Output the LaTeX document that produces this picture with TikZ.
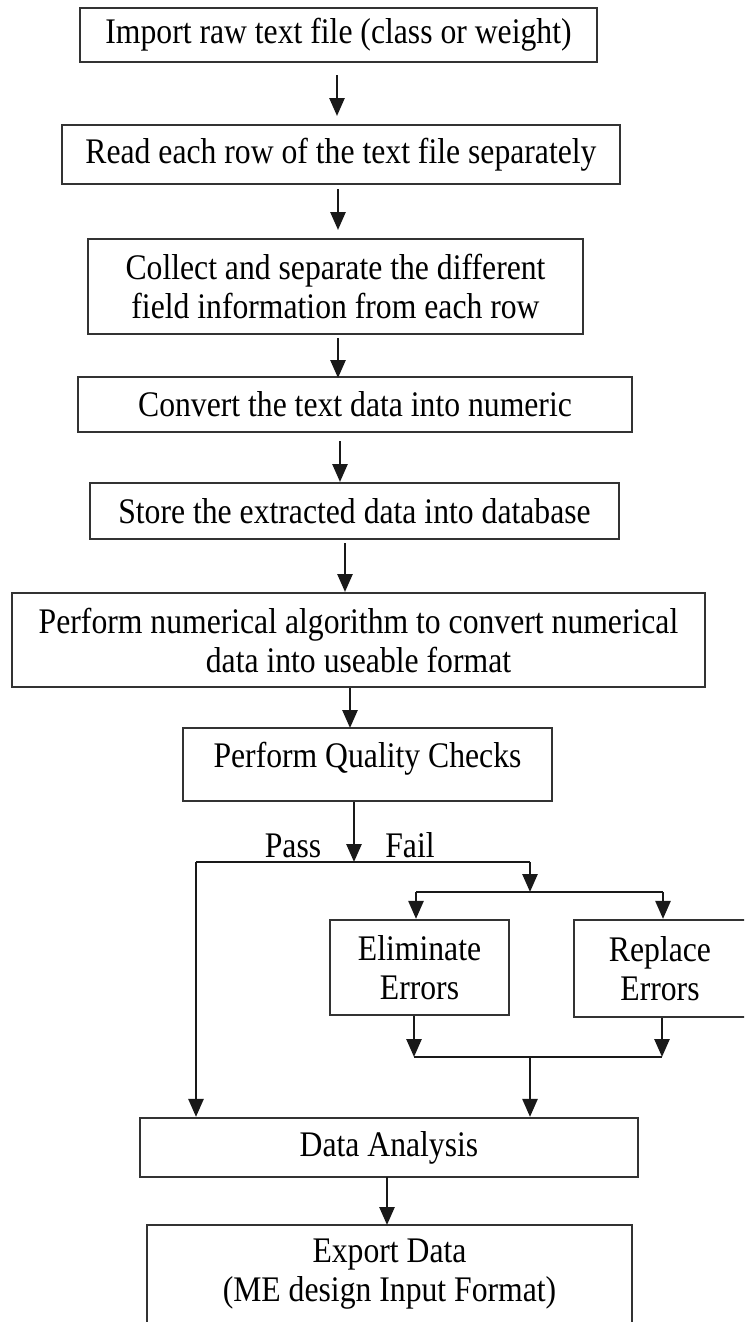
\documentclass[tikz,border=0pt]{standalone}
\usepackage{fontspec}
\setmainfont{Liberation Serif}[FakeStretch=0.88]
\usetikzlibrary{arrows.meta}
\begin{document}
\begin{tikzpicture}[x=1pt,y=-1pt,
  box/.style={draw=black!80, line width=2.2pt, align=center, inner sep=0pt,
    font=\fontsize{36}{39}\selectfont},
  conn/.style={draw=black!90, line width=2.6pt},
  arr/.style={conn, -{Triangle[length=18pt,width=15pt]}},
  lbl/.style={font=\fontsize{36}{39}\selectfont, inner sep=0pt, anchor=base}]
\useasboundingbox (0,0) rectangle (744,1322);
\clip (0,0) rectangle (744,1322);
\fill[white] (0,0) rectangle (744,1322);

\node[box, minimum width=517, minimum height=54] (b1) at (338.5,35) {Import raw text file (class or weight)};
\node[box, minimum width=558, minimum height=59] (b2) at (341,154.5) {Read each row of the text file separately};
\node[box, minimum width=495, minimum height=95] (b3) at (335.5,286.5) {Collect and separate the different\\field information from each row};
\node[box, minimum width=554, minimum height=55] (b4) at (355,404.5) {Convert the text data into numeric};
\node[box, minimum width=529, minimum height=56] (b5) at (354.5,511) {Store the extracted data into database};
\node[box, minimum width=693, minimum height=94] (b6) at (358.5,640) {Perform numerical algorithm to convert numerical\\data into useable format};
\node[box, minimum width=369, minimum height=73, text depth=20pt] (b7) at (367.5,764.5) {Perform Quality Checks};
\node[box, minimum width=179, minimum height=95] (elim) at (419.5,967.5) {Eliminate\\Errors};
\node[box, minimum width=172, minimum height=97] (repl) at (660,968.5) {Replace\\Errors};
\node[box, minimum width=498, minimum height=59] (da) at (389,1147.5) {Data Analysis};
\node[box, minimum width=485, minimum height=140, text depth=50pt] (ex) at (389.5,1295) {Export Data\\(ME design Input Format)};

% straight arrows between consecutive boxes
\draw[arr] (337,75) -- (337,116);
\draw[arr] (338,189) -- (338,230);
\draw[arr] (338,338) -- (338,378);
\draw[arr] (340,441) -- (340,482);
\draw[arr] (345,543) -- (345,592);
\draw[arr] (350,688) -- (350,728);

% branching
\coordinate (j1) at (354,862);
\coordinate (pl) at (196,862);
\coordinate (fr) at (530,862);
\coordinate (f2) at (530,892);
\coordinate (fl) at (416,892);
\coordinate (frr) at (663,892);
\draw[arr] (b7.south -| j1) -- (j1);
\draw[conn] (pl) -- (fr);
\draw[arr] (fr) -- (f2);
\draw[conn] (fl) -- (frr);
\draw[arr] (fl) -- (fl |- elim.north);
\draw[arr] (frr) -- (frr |- repl.north);
\draw[arr] (pl) -- (pl |- da.north);

\node[lbl] (pass) at (293,857) {Pass};
\node[lbl] (fail) at (410,857) {Fail};

% merge
\coordinate (ml) at (414,1057);
\coordinate (mr) at (662,1057);
\coordinate (mc) at (530,1057);
\draw[arr] (ml |- elim.south) -- (ml);
\draw[arr] (mr |- repl.south) -- (mr);
\draw[conn] (ml) -- (mr);
\draw[arr] (mc) -- (mc |- da.north);

\draw[arr] (387,1177) -- (387,1225);
\end{tikzpicture}
\end{document}
